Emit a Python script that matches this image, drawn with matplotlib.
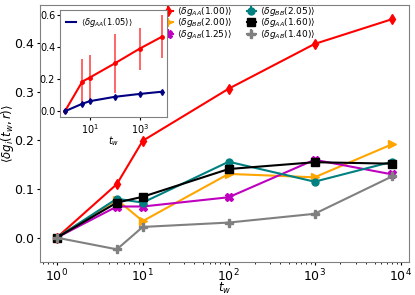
import numpy as np
import matplotlib.pyplot as plt
from matplotlib.lines import Line2D

tw = np.array([1, 5, 10, 100, 1000, 8000])

# main panel
g_AA_100 = [0.0, 0.110, 0.199, 0.306, 0.398, 0.449]
g_AA_100_err = [0.003, 0.006, 0.006, 0.005, 0.005, 0.005]
g_BB_200 = [0.0, 0.078, 0.034, 0.131, 0.124, 0.192]
g_AB_125 = [0.0, 0.064, 0.064, 0.083, 0.160, 0.130]
g_BB_205 = [0.0, 0.080, 0.072, 0.156, 0.115, 0.156]
g_AA_160 = [0.0, 0.072, 0.084, 0.141, 0.155, 0.152]
g_AB_140 = [0.0, -0.024, 0.022, 0.031, 0.049, 0.126]

# inset
ins_AA_100 = [0.0, 0.185, 0.21, 0.298, 0.39, 0.465]
ins_AA_100_err = [0.0, 0.14, 0.14, 0.185, 0.13, 0.135]
ins_AA_105 = [0.0, 0.047, 0.063, 0.09, 0.108, 0.122]

fig = plt.figure(figsize=(4.15, 2.95), dpi=100)
ax = fig.add_axes([0.0964, 0.1119, 0.8891, 0.8711])

ax.errorbar(tw, g_AA_100, yerr=g_AA_100_err, color='red', marker='d', ms=5,
            label=r'$\langle\delta g_{AA}(1.00)\rangle$')
ax.errorbar(tw, g_BB_200, yerr=0.002, color='orange', marker='>', ms=6,
            label=r'$\langle\delta g_{BB}(2.00)\rangle$')
ax.errorbar(tw, g_AB_125, yerr=0.002, color='m', marker='X', ms=6,
            label=r'$\langle\delta g_{AB}(1.25)\rangle$')
ax.errorbar(tw, g_BB_205, yerr=0.002, color='teal', marker='o', ms=5,
            label=r'$\langle\delta g_{BB}(2.05)\rangle$')
ax.errorbar(tw, g_AA_160, yerr=0.002, color='black', marker='s', ms=6,
            label=r'$\langle\delta g_{AA}(1.60)\rangle$')
ax.errorbar(tw, g_AB_140, yerr=0.002, color='gray', marker='P', ms=6,
            label=r'$\langle\delta g_{AB}(1.40)\rangle$')
ax.set_xscale('log')
ax.set_xlabel(r'$t_w$', fontsize=8.5, labelpad=-2.5)
ax.set_ylabel(r'$\langle\delta g_i(t_w, r)\rangle$', fontsize=8.5)
ax.yaxis.set_label_coords(-0.066, 0.5)
ax.tick_params(labelsize=9, pad=1.5, length=2.5)
ax.tick_params(which='minor', length=1.5)
for s in ax.spines.values():
    s.set_color('gray')
ax.legend(ncol=2, fontsize=6.5, frameon=False, loc='upper left',
          bbox_to_anchor=(0.325, 1.015), handlelength=1.0, handletextpad=0.5,
          columnspacing=1.6, labelspacing=-0.15, borderaxespad=0)

ins = fig.add_axes([0.1446, 0.603, 0.258, 0.363])
ins.errorbar(tw, ins_AA_100, yerr=ins_AA_100_err, color='red', marker='o',
             ms=2.5, elinewidth=1.2, ecolor=(1, 0, 0, 0.7))
ins.errorbar(tw, ins_AA_105, yerr=0.006, color='navy', marker='d', ms=3)
ins.set_xscale('log')
ins.set_xticks([10, 1000])
ins.set_yticks([0.0, 0.2, 0.4, 0.6])
ins.tick_params(labelsize=7, pad=1, length=2.5)
ins.tick_params(which='minor', length=1.2)
ins.set_xlabel(r'$t_w$', fontsize=7, labelpad=-1)
ins.legend([Line2D([], [], color='navy')],
           [r'$\langle\delta g_{AA}(1.05)\rangle$'],
           fontsize=6, frameon=False, loc='upper left', handlelength=1.2,
           handletextpad=0.6, borderaxespad=0.3)
for s in ins.spines.values():
    s.set_color('gray')

fig.savefig('out.png', dpi=100)
